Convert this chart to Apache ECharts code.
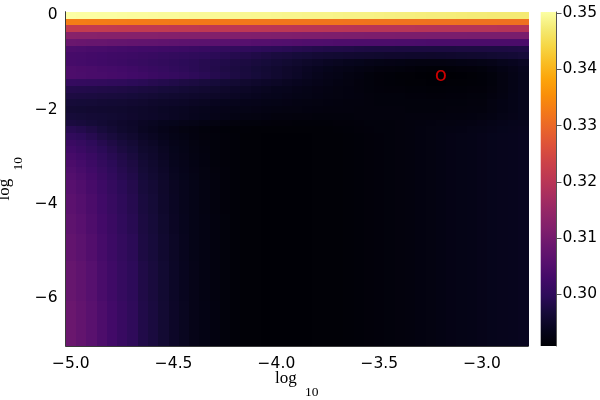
<!DOCTYPE html>
<html><head><meta charset="utf-8">
<script src="https://cdn.jsdelivr.net/npm/echarts@6/dist/echarts.min.js"></script>
<style>html,body{margin:0;padding:0;background:#fff}#c{width:600px;height:400px}</style>
</head><body><div id="c"></div>
<script>
// grid of cell centres (log10 of the two hyper-parameters)
const xCenters = [-5.00,-4.95,-4.90,-4.85,-4.80,-4.75,-4.70,-4.65,-4.60,-4.55,-4.50,-4.45,-4.40,-4.35,-4.30,-4.25,-4.20,-4.15,-4.10,-4.05,-4.00,-3.95,-3.90,-3.85,-3.80,-3.75,-3.70,-3.65,-3.60,-3.55,-3.50,-3.45,-3.40,-3.35,-3.30,-3.25,-3.20,-3.15,-3.10,-3.05,-3.00,-2.95,-2.90,-2.85,-2.80];
const yCenters = [0,-0.1429,-0.2857,-0.4286,-0.5714,-0.7143,-0.8571,-1.0,-1.1429,-1.2857,-1.4286,-1.5714,-1.7143,-1.8571,-2.0,-2.1429,-2.2857,-2.4286,-2.5714,-2.7143,-2.8571,-3.0,-3.1429,-3.2857,-3.4286,-3.5714,-3.7143,-3.8571,-4.0,-4.1429,-4.2857,-4.4286,-4.5714,-4.7143,-4.8571,-5.0,-5.1429,-5.2857,-5.4286,-5.5714,-5.7143,-5.8571,-6.0,-6.1429,-6.2857,-6.4286,-6.5714,-6.7143,-6.8571,-7.0];
// tick positions
const xTicks = [-5.0, -4.5, -4.0, -3.5, -3.0];
const yTicks = [-6, -4, -2, 0];
const colorTicks = [0.30, 0.31, 0.32, 0.33, 0.34, 0.35];
// values, one row per y centre (top row first)
const zRows = [
[0.3502,0.3501,0.3501,0.3500,0.3500,0.3499,0.3498,0.3498,0.3497,0.3496,0.3496,0.3495,0.3494,0.3494,0.3493,0.3492,0.3492,0.3491,0.3490,0.3490,0.3489,0.3488,0.3488,0.3487,0.3486,0.3486,0.3485,0.3484,0.3484,0.3483,0.3482,0.3481,0.3480,0.3479,0.3478,0.3477,0.3477,0.3476,0.3475,0.3474,0.3474,0.3473,0.3473,0.3472,0.3472],
[0.3330,0.3330,0.3329,0.3329,0.3328,0.3328,0.3327,0.3327,0.3326,0.3326,0.3325,0.3325,0.3324,0.3324,0.3323,0.3323,0.3322,0.3322,0.3321,0.3321,0.3320,0.3320,0.3319,0.3319,0.3318,0.3318,0.3318,0.3317,0.3317,0.3316,0.3316,0.3316,0.3315,0.3315,0.3315,0.3314,0.3314,0.3314,0.3313,0.3313,0.3313,0.3313,0.3312,0.3312,0.3312],
[0.3217,0.3217,0.3216,0.3216,0.3215,0.3214,0.3214,0.3213,0.3212,0.3212,0.3211,0.3210,0.3210,0.3209,0.3208,0.3208,0.3207,0.3206,0.3206,0.3205,0.3204,0.3204,0.3203,0.3202,0.3202,0.3201,0.3201,0.3200,0.3199,0.3199,0.3198,0.3198,0.3197,0.3197,0.3196,0.3196,0.3195,0.3195,0.3195,0.3194,0.3194,0.3194,0.3193,0.3193,0.3193],
[0.3128,0.3127,0.3127,0.3126,0.3126,0.3125,0.3124,0.3124,0.3123,0.3122,0.3122,0.3121,0.3120,0.3120,0.3119,0.3118,0.3118,0.3117,0.3116,0.3116,0.3115,0.3115,0.3114,0.3113,0.3113,0.3112,0.3112,0.3111,0.3111,0.3110,0.3110,0.3110,0.3109,0.3109,0.3109,0.3108,0.3108,0.3108,0.3108,0.3107,0.3107,0.3107,0.3107,0.3107,0.3107],
[0.3086,0.3084,0.3082,0.3081,0.3079,0.3077,0.3075,0.3073,0.3072,0.3070,0.3068,0.3066,0.3064,0.3063,0.3061,0.3059,0.3058,0.3056,0.3054,0.3053,0.3051,0.3050,0.3049,0.3047,0.3046,0.3045,0.3044,0.3044,0.3043,0.3043,0.3042,0.3042,0.3041,0.3041,0.3040,0.3039,0.3039,0.3039,0.3039,0.3039,0.3039,0.3039,0.3039,0.3039,0.3039],
[0.3042,0.3040,0.3037,0.3035,0.3032,0.3030,0.3028,0.3026,0.3025,0.3023,0.3021,0.3018,0.3015,0.3012,0.3009,0.3006,0.3004,0.3001,0.2999,0.2996,0.2994,0.2992,0.2989,0.2987,0.2984,0.2982,0.2981,0.2980,0.2978,0.2977,0.2976,0.2976,0.2975,0.2975,0.2975,0.2975,0.2975,0.2975,0.2976,0.2976,0.2976,0.2977,0.2977,0.2978,0.2979],
[0.3033,0.3031,0.3028,0.3026,0.3023,0.3021,0.3018,0.3015,0.3012,0.3009,0.3006,0.3003,0.3000,0.2997,0.2994,0.2991,0.2987,0.2984,0.2980,0.2977,0.2973,0.2971,0.2968,0.2966,0.2963,0.2961,0.2960,0.2959,0.2958,0.2957,0.2956,0.2955,0.2955,0.2954,0.2954,0.2953,0.2954,0.2955,0.2956,0.2957,0.2958,0.2960,0.2962,0.2964,0.2967],
[0.3033,0.3030,0.3027,0.3024,0.3021,0.3018,0.3014,0.3011,0.3007,0.3004,0.3000,0.2996,0.2993,0.2989,0.2986,0.2982,0.2978,0.2975,0.2971,0.2968,0.2964,0.2960,0.2956,0.2952,0.2948,0.2944,0.2941,0.2938,0.2935,0.2932,0.2929,0.2928,0.2927,0.2925,0.2924,0.2923,0.2924,0.2925,0.2927,0.2928,0.2929,0.2932,0.2936,0.2940,0.2944],
[0.3042,0.3039,0.3036,0.3033,0.3030,0.3027,0.3022,0.3017,0.3013,0.3008,0.3003,0.2998,0.2993,0.2989,0.2984,0.2979,0.2975,0.2971,0.2966,0.2962,0.2958,0.2953,0.2949,0.2944,0.2940,0.2935,0.2932,0.2929,0.2926,0.2923,0.2920,0.2919,0.2917,0.2916,0.2914,0.2913,0.2913,0.2914,0.2915,0.2916,0.2917,0.2922,0.2927,0.2932,0.2938],
[0.3042,0.3040,0.3037,0.3035,0.3032,0.3030,0.3026,0.3022,0.3017,0.3013,0.3009,0.3004,0.2998,0.2993,0.2987,0.2982,0.2977,0.2972,0.2968,0.2963,0.2958,0.2953,0.2948,0.2942,0.2937,0.2932,0.2929,0.2925,0.2922,0.2918,0.2915,0.2914,0.2912,0.2911,0.2910,0.2909,0.2908,0.2909,0.2910,0.2912,0.2914,0.2918,0.2923,0.2929,0.2935],
[0.3009,0.3007,0.3005,0.3004,0.3002,0.3000,0.2996,0.2993,0.2989,0.2986,0.2982,0.2978,0.2975,0.2971,0.2968,0.2964,0.2961,0.2957,0.2954,0.2950,0.2947,0.2943,0.2940,0.2936,0.2933,0.2929,0.2926,0.2923,0.2920,0.2917,0.2915,0.2914,0.2913,0.2912,0.2911,0.2910,0.2910,0.2911,0.2912,0.2913,0.2914,0.2918,0.2923,0.2929,0.2935],
[0.2985,0.2984,0.2983,0.2981,0.2980,0.2979,0.2977,0.2974,0.2972,0.2969,0.2967,0.2964,0.2961,0.2959,0.2956,0.2953,0.2950,0.2947,0.2944,0.2941,0.2938,0.2936,0.2933,0.2931,0.2928,0.2926,0.2924,0.2922,0.2920,0.2918,0.2916,0.2915,0.2915,0.2914,0.2914,0.2913,0.2913,0.2914,0.2914,0.2915,0.2915,0.2919,0.2924,0.2929,0.2935],
[0.2976,0.2975,0.2974,0.2972,0.2971,0.2970,0.2968,0.2965,0.2963,0.2960,0.2958,0.2956,0.2954,0.2951,0.2949,0.2947,0.2945,0.2942,0.2940,0.2937,0.2935,0.2933,0.2931,0.2929,0.2927,0.2925,0.2924,0.2922,0.2921,0.2919,0.2918,0.2917,0.2917,0.2916,0.2916,0.2915,0.2915,0.2916,0.2916,0.2917,0.2917,0.2921,0.2925,0.2930,0.2935],
[0.2967,0.2966,0.2965,0.2963,0.2962,0.2961,0.2959,0.2957,0.2954,0.2952,0.2950,0.2948,0.2945,0.2943,0.2940,0.2938,0.2936,0.2934,0.2933,0.2931,0.2929,0.2928,0.2926,0.2925,0.2923,0.2922,0.2921,0.2920,0.2920,0.2919,0.2918,0.2918,0.2918,0.2917,0.2917,0.2917,0.2917,0.2918,0.2918,0.2919,0.2919,0.2923,0.2927,0.2931,0.2935],
[0.2961,0.2960,0.2959,0.2958,0.2957,0.2956,0.2954,0.2951,0.2949,0.2946,0.2944,0.2942,0.2939,0.2937,0.2934,0.2932,0.2931,0.2929,0.2928,0.2926,0.2925,0.2924,0.2923,0.2922,0.2921,0.2920,0.2920,0.2920,0.2919,0.2919,0.2919,0.2919,0.2919,0.2918,0.2918,0.2918,0.2918,0.2919,0.2919,0.2920,0.2920,0.2924,0.2927,0.2931,0.2935],
[0.2967,0.2965,0.2963,0.2962,0.2960,0.2958,0.2955,0.2952,0.2950,0.2947,0.2944,0.2941,0.2938,0.2935,0.2932,0.2929,0.2927,0.2925,0.2923,0.2922,0.2920,0.2920,0.2919,0.2919,0.2918,0.2918,0.2918,0.2918,0.2919,0.2919,0.2919,0.2919,0.2919,0.2920,0.2920,0.2920,0.2920,0.2921,0.2921,0.2922,0.2923,0.2926,0.2929,0.2932,0.2935],
[0.2973,0.2970,0.2966,0.2962,0.2958,0.2954,0.2950,0.2945,0.2942,0.2938,0.2935,0.2932,0.2929,0.2926,0.2923,0.2921,0.2919,0.2918,0.2917,0.2916,0.2915,0.2915,0.2914,0.2914,0.2914,0.2914,0.2915,0.2915,0.2916,0.2917,0.2917,0.2918,0.2919,0.2920,0.2921,0.2922,0.2923,0.2924,0.2925,0.2926,0.2928,0.2930,0.2933,0.2935,0.2937],
[0.2991,0.2986,0.2979,0.2970,0.2963,0.2956,0.2951,0.2943,0.2939,0.2933,0.2928,0.2924,0.2921,0.2918,0.2916,0.2914,0.2913,0.2913,0.2912,0.2911,0.2911,0.2911,0.2911,0.2911,0.2912,0.2912,0.2913,0.2914,0.2915,0.2916,0.2917,0.2918,0.2919,0.2920,0.2922,0.2923,0.2925,0.2926,0.2927,0.2929,0.2931,0.2933,0.2935,0.2937,0.2939],
[0.3003,0.2997,0.2989,0.2979,0.2971,0.2963,0.2957,0.2948,0.2943,0.2936,0.2931,0.2927,0.2922,0.2919,0.2917,0.2915,0.2914,0.2912,0.2911,0.2910,0.2910,0.2910,0.2910,0.2910,0.2911,0.2911,0.2912,0.2913,0.2914,0.2915,0.2916,0.2918,0.2919,0.2920,0.2922,0.2924,0.2926,0.2928,0.2929,0.2931,0.2933,0.2935,0.2937,0.2938,0.2940],
[0.3015,0.3008,0.2999,0.2988,0.2979,0.2970,0.2963,0.2953,0.2947,0.2940,0.2933,0.2929,0.2924,0.2920,0.2917,0.2915,0.2914,0.2912,0.2911,0.2910,0.2910,0.2910,0.2910,0.2910,0.2911,0.2911,0.2912,0.2913,0.2914,0.2915,0.2916,0.2918,0.2919,0.2920,0.2922,0.2924,0.2926,0.2928,0.2929,0.2931,0.2933,0.2935,0.2937,0.2938,0.2940],
[0.3024,0.3016,0.3006,0.2995,0.2985,0.2975,0.2968,0.2956,0.2951,0.2943,0.2935,0.2930,0.2925,0.2921,0.2918,0.2915,0.2914,0.2912,0.2911,0.2910,0.2910,0.2910,0.2910,0.2910,0.2911,0.2911,0.2912,0.2913,0.2914,0.2915,0.2916,0.2918,0.2919,0.2920,0.2922,0.2924,0.2926,0.2928,0.2929,0.2931,0.2933,0.2935,0.2937,0.2938,0.2940],
[0.3033,0.3024,0.3014,0.3002,0.2991,0.2981,0.2972,0.2960,0.2954,0.2945,0.2937,0.2932,0.2926,0.2922,0.2918,0.2915,0.2914,0.2912,0.2911,0.2910,0.2910,0.2910,0.2910,0.2910,0.2911,0.2911,0.2912,0.2913,0.2914,0.2915,0.2916,0.2918,0.2919,0.2920,0.2922,0.2924,0.2926,0.2928,0.2929,0.2931,0.2933,0.2935,0.2937,0.2938,0.2940],
[0.3039,0.3030,0.3019,0.3006,0.2995,0.2984,0.2976,0.2963,0.2956,0.2947,0.2938,0.2933,0.2927,0.2922,0.2918,0.2915,0.2914,0.2912,0.2911,0.2910,0.2910,0.2910,0.2910,0.2910,0.2911,0.2911,0.2912,0.2913,0.2914,0.2915,0.2916,0.2918,0.2919,0.2920,0.2922,0.2924,0.2926,0.2928,0.2929,0.2931,0.2933,0.2935,0.2937,0.2938,0.2940],
[0.3045,0.3035,0.3024,0.3011,0.2999,0.2988,0.2979,0.2965,0.2958,0.2949,0.2940,0.2934,0.2928,0.2923,0.2919,0.2916,0.2914,0.2912,0.2911,0.2910,0.2910,0.2910,0.2910,0.2910,0.2911,0.2911,0.2912,0.2913,0.2914,0.2915,0.2916,0.2918,0.2919,0.2920,0.2922,0.2924,0.2926,0.2928,0.2929,0.2931,0.2933,0.2935,0.2937,0.2938,0.2940],
[0.3051,0.3041,0.3029,0.3015,0.3003,0.2991,0.2982,0.2968,0.2960,0.2951,0.2941,0.2935,0.2929,0.2924,0.2920,0.2916,0.2914,0.2912,0.2911,0.2910,0.2910,0.2910,0.2910,0.2910,0.2911,0.2911,0.2912,0.2913,0.2914,0.2915,0.2916,0.2918,0.2919,0.2920,0.2922,0.2924,0.2926,0.2928,0.2929,0.2931,0.2933,0.2935,0.2937,0.2938,0.2940],
[0.3057,0.3047,0.3034,0.3020,0.3007,0.2995,0.2985,0.2970,0.2963,0.2953,0.2943,0.2936,0.2930,0.2925,0.2920,0.2916,0.2914,0.2912,0.2911,0.2910,0.2910,0.2910,0.2910,0.2910,0.2911,0.2911,0.2912,0.2913,0.2914,0.2915,0.2916,0.2918,0.2919,0.2920,0.2922,0.2924,0.2926,0.2928,0.2929,0.2931,0.2933,0.2935,0.2937,0.2938,0.2940],
[0.3057,0.3047,0.3034,0.3020,0.3007,0.2995,0.2985,0.2970,0.2963,0.2953,0.2943,0.2936,0.2930,0.2925,0.2920,0.2916,0.2914,0.2912,0.2911,0.2910,0.2910,0.2910,0.2910,0.2910,0.2911,0.2911,0.2912,0.2913,0.2914,0.2915,0.2916,0.2918,0.2919,0.2920,0.2922,0.2924,0.2926,0.2928,0.2929,0.2931,0.2933,0.2935,0.2937,0.2938,0.2940],
[0.3062,0.3052,0.3039,0.3024,0.3011,0.2998,0.2988,0.2973,0.2965,0.2954,0.2944,0.2937,0.2930,0.2925,0.2920,0.2916,0.2914,0.2912,0.2911,0.2910,0.2910,0.2910,0.2910,0.2910,0.2911,0.2911,0.2912,0.2913,0.2914,0.2915,0.2916,0.2918,0.2919,0.2920,0.2922,0.2924,0.2926,0.2928,0.2929,0.2931,0.2933,0.2935,0.2937,0.2938,0.2940],
[0.3062,0.3052,0.3039,0.3024,0.3011,0.2998,0.2988,0.2973,0.2965,0.2954,0.2944,0.2937,0.2930,0.2925,0.2920,0.2916,0.2914,0.2912,0.2911,0.2910,0.2910,0.2910,0.2910,0.2910,0.2911,0.2911,0.2912,0.2913,0.2914,0.2915,0.2916,0.2918,0.2919,0.2920,0.2922,0.2924,0.2926,0.2928,0.2929,0.2931,0.2933,0.2935,0.2937,0.2938,0.2940],
[0.3062,0.3052,0.3039,0.3024,0.3011,0.2998,0.2988,0.2973,0.2965,0.2954,0.2944,0.2937,0.2930,0.2925,0.2920,0.2916,0.2914,0.2912,0.2911,0.2910,0.2910,0.2910,0.2910,0.2910,0.2911,0.2911,0.2912,0.2913,0.2914,0.2915,0.2916,0.2918,0.2919,0.2920,0.2922,0.2924,0.2926,0.2928,0.2929,0.2931,0.2933,0.2935,0.2937,0.2938,0.2940],
[0.3068,0.3058,0.3044,0.3028,0.3015,0.3001,0.2991,0.2975,0.2967,0.2956,0.2945,0.2938,0.2931,0.2926,0.2921,0.2917,0.2914,0.2912,0.2911,0.2910,0.2910,0.2910,0.2910,0.2910,0.2911,0.2911,0.2912,0.2913,0.2914,0.2915,0.2916,0.2918,0.2919,0.2920,0.2922,0.2924,0.2926,0.2928,0.2929,0.2931,0.2933,0.2935,0.2937,0.2938,0.2940],
[0.3068,0.3058,0.3044,0.3028,0.3015,0.3001,0.2991,0.2975,0.2967,0.2956,0.2945,0.2938,0.2931,0.2926,0.2921,0.2917,0.2914,0.2912,0.2911,0.2910,0.2910,0.2910,0.2910,0.2910,0.2911,0.2911,0.2912,0.2913,0.2914,0.2915,0.2916,0.2918,0.2919,0.2920,0.2922,0.2924,0.2926,0.2928,0.2929,0.2931,0.2933,0.2935,0.2937,0.2938,0.2940],
[0.3068,0.3058,0.3044,0.3028,0.3015,0.3001,0.2991,0.2975,0.2967,0.2956,0.2945,0.2938,0.2931,0.2926,0.2921,0.2917,0.2914,0.2912,0.2911,0.2910,0.2910,0.2910,0.2910,0.2910,0.2911,0.2911,0.2912,0.2913,0.2914,0.2915,0.2916,0.2918,0.2919,0.2920,0.2922,0.2924,0.2926,0.2928,0.2929,0.2931,0.2933,0.2935,0.2937,0.2938,0.2940],
[0.3074,0.3063,0.3049,0.3033,0.3019,0.3005,0.2994,0.2977,0.2969,0.2958,0.2947,0.2939,0.2931,0.2926,0.2921,0.2917,0.2914,0.2912,0.2911,0.2910,0.2910,0.2910,0.2910,0.2910,0.2911,0.2911,0.2912,0.2913,0.2914,0.2915,0.2916,0.2918,0.2919,0.2920,0.2922,0.2924,0.2926,0.2928,0.2929,0.2931,0.2933,0.2935,0.2937,0.2938,0.2940],
[0.3074,0.3063,0.3049,0.3033,0.3019,0.3005,0.2994,0.2977,0.2969,0.2958,0.2947,0.2939,0.2931,0.2926,0.2921,0.2917,0.2914,0.2912,0.2911,0.2910,0.2910,0.2910,0.2910,0.2910,0.2911,0.2911,0.2912,0.2913,0.2914,0.2915,0.2916,0.2918,0.2919,0.2920,0.2922,0.2924,0.2926,0.2928,0.2929,0.2931,0.2933,0.2935,0.2937,0.2938,0.2940],
[0.3074,0.3063,0.3049,0.3033,0.3019,0.3005,0.2994,0.2977,0.2969,0.2958,0.2947,0.2939,0.2931,0.2926,0.2921,0.2917,0.2914,0.2912,0.2911,0.2910,0.2910,0.2910,0.2910,0.2910,0.2911,0.2911,0.2912,0.2913,0.2914,0.2915,0.2916,0.2918,0.2919,0.2920,0.2922,0.2924,0.2926,0.2928,0.2929,0.2931,0.2933,0.2935,0.2937,0.2938,0.2940],
[0.3074,0.3063,0.3049,0.3033,0.3019,0.3005,0.2994,0.2977,0.2969,0.2958,0.2947,0.2939,0.2931,0.2926,0.2921,0.2917,0.2914,0.2912,0.2911,0.2910,0.2910,0.2910,0.2910,0.2910,0.2911,0.2911,0.2912,0.2913,0.2914,0.2915,0.2916,0.2918,0.2919,0.2920,0.2922,0.2924,0.2926,0.2928,0.2929,0.2931,0.2933,0.2935,0.2937,0.2938,0.2940],
[0.3080,0.3069,0.3055,0.3037,0.3023,0.3008,0.2997,0.2980,0.2971,0.2960,0.2948,0.2940,0.2932,0.2926,0.2921,0.2917,0.2914,0.2912,0.2911,0.2910,0.2910,0.2910,0.2910,0.2910,0.2911,0.2911,0.2912,0.2913,0.2914,0.2915,0.2916,0.2918,0.2919,0.2920,0.2922,0.2924,0.2926,0.2928,0.2929,0.2931,0.2933,0.2935,0.2937,0.2938,0.2940],
[0.3080,0.3069,0.3055,0.3037,0.3023,0.3008,0.2997,0.2980,0.2971,0.2960,0.2948,0.2940,0.2932,0.2926,0.2921,0.2917,0.2914,0.2912,0.2911,0.2910,0.2910,0.2910,0.2910,0.2910,0.2911,0.2911,0.2912,0.2913,0.2914,0.2915,0.2916,0.2918,0.2919,0.2920,0.2922,0.2924,0.2926,0.2928,0.2929,0.2931,0.2933,0.2935,0.2937,0.2938,0.2940],
[0.3080,0.3069,0.3055,0.3037,0.3023,0.3008,0.2997,0.2980,0.2971,0.2960,0.2948,0.2940,0.2932,0.2926,0.2921,0.2917,0.2914,0.2912,0.2911,0.2910,0.2910,0.2910,0.2910,0.2910,0.2911,0.2911,0.2912,0.2913,0.2914,0.2915,0.2916,0.2918,0.2919,0.2920,0.2922,0.2924,0.2926,0.2928,0.2929,0.2931,0.2933,0.2935,0.2937,0.2938,0.2940],
[0.3080,0.3069,0.3055,0.3037,0.3023,0.3008,0.2997,0.2980,0.2971,0.2960,0.2948,0.2940,0.2932,0.2926,0.2921,0.2917,0.2914,0.2912,0.2911,0.2910,0.2910,0.2910,0.2910,0.2910,0.2911,0.2911,0.2912,0.2913,0.2914,0.2915,0.2916,0.2918,0.2919,0.2920,0.2922,0.2924,0.2926,0.2928,0.2929,0.2931,0.2933,0.2935,0.2937,0.2938,0.2940],
[0.3080,0.3069,0.3055,0.3037,0.3023,0.3008,0.2997,0.2980,0.2971,0.2960,0.2948,0.2940,0.2932,0.2926,0.2921,0.2917,0.2914,0.2912,0.2911,0.2910,0.2910,0.2910,0.2910,0.2910,0.2911,0.2911,0.2912,0.2913,0.2914,0.2915,0.2916,0.2918,0.2919,0.2920,0.2922,0.2924,0.2926,0.2928,0.2929,0.2931,0.2933,0.2935,0.2937,0.2938,0.2940],
[0.3080,0.3069,0.3055,0.3037,0.3023,0.3008,0.2997,0.2980,0.2971,0.2960,0.2948,0.2940,0.2932,0.2926,0.2921,0.2917,0.2914,0.2912,0.2911,0.2910,0.2910,0.2910,0.2910,0.2910,0.2911,0.2911,0.2912,0.2913,0.2914,0.2915,0.2916,0.2918,0.2919,0.2920,0.2922,0.2924,0.2926,0.2928,0.2929,0.2931,0.2933,0.2935,0.2937,0.2938,0.2940],
[0.3086,0.3074,0.3060,0.3042,0.3027,0.3012,0.3000,0.2982,0.2973,0.2961,0.2949,0.2941,0.2932,0.2927,0.2922,0.2917,0.2914,0.2912,0.2911,0.2910,0.2910,0.2910,0.2910,0.2910,0.2911,0.2911,0.2912,0.2913,0.2914,0.2915,0.2916,0.2918,0.2919,0.2920,0.2922,0.2924,0.2926,0.2928,0.2929,0.2931,0.2933,0.2935,0.2937,0.2938,0.2940],
[0.3086,0.3074,0.3060,0.3042,0.3027,0.3012,0.3000,0.2982,0.2973,0.2961,0.2949,0.2941,0.2932,0.2927,0.2922,0.2917,0.2914,0.2912,0.2911,0.2910,0.2910,0.2910,0.2910,0.2910,0.2911,0.2911,0.2912,0.2913,0.2914,0.2915,0.2916,0.2918,0.2919,0.2920,0.2922,0.2924,0.2926,0.2928,0.2929,0.2931,0.2933,0.2935,0.2937,0.2938,0.2940],
[0.3086,0.3074,0.3060,0.3042,0.3027,0.3012,0.3000,0.2982,0.2973,0.2961,0.2949,0.2941,0.2932,0.2927,0.2922,0.2917,0.2914,0.2912,0.2911,0.2910,0.2910,0.2910,0.2910,0.2910,0.2911,0.2911,0.2912,0.2913,0.2914,0.2915,0.2916,0.2918,0.2919,0.2920,0.2922,0.2924,0.2926,0.2928,0.2929,0.2931,0.2933,0.2935,0.2937,0.2938,0.2940],
[0.3086,0.3074,0.3060,0.3042,0.3027,0.3012,0.3000,0.2982,0.2973,0.2961,0.2949,0.2941,0.2932,0.2927,0.2922,0.2917,0.2914,0.2912,0.2911,0.2910,0.2910,0.2910,0.2910,0.2910,0.2911,0.2911,0.2912,0.2913,0.2914,0.2915,0.2916,0.2918,0.2919,0.2920,0.2922,0.2924,0.2926,0.2928,0.2929,0.2931,0.2933,0.2935,0.2937,0.2938,0.2940],
[0.3086,0.3074,0.3060,0.3042,0.3027,0.3012,0.3000,0.2982,0.2973,0.2961,0.2949,0.2941,0.2932,0.2927,0.2922,0.2917,0.2914,0.2912,0.2911,0.2910,0.2910,0.2910,0.2910,0.2910,0.2911,0.2911,0.2912,0.2913,0.2914,0.2915,0.2916,0.2918,0.2919,0.2920,0.2922,0.2924,0.2926,0.2928,0.2929,0.2931,0.2933,0.2935,0.2937,0.2938,0.2940],
[0.3086,0.3074,0.3060,0.3042,0.3027,0.3012,0.3000,0.2982,0.2973,0.2961,0.2949,0.2941,0.2932,0.2927,0.2922,0.2917,0.2914,0.2912,0.2911,0.2910,0.2910,0.2910,0.2910,0.2910,0.2911,0.2911,0.2912,0.2913,0.2914,0.2915,0.2916,0.2918,0.2919,0.2920,0.2922,0.2924,0.2926,0.2928,0.2929,0.2931,0.2933,0.2935,0.2937,0.2938,0.2940],
[0.3086,0.3074,0.3060,0.3042,0.3027,0.3012,0.3000,0.2982,0.2973,0.2961,0.2949,0.2941,0.2932,0.2927,0.2922,0.2917,0.2914,0.2912,0.2911,0.2910,0.2910,0.2910,0.2910,0.2910,0.2911,0.2911,0.2912,0.2913,0.2914,0.2915,0.2916,0.2918,0.2919,0.2920,0.2922,0.2924,0.2926,0.2928,0.2929,0.2931,0.2933,0.2935,0.2937,0.2938,0.2940]
];
const colorMin = 0.2908, colorMax = 0.3502;
const bestPoint = [-3.2, -1.2857];
const bestLabel = 'o';
const axisTitleMain = 'log', axisTitleSub = '10';
const infernoStops = ['#000004','#07051d','#160b39','#2d0b59','#420a68','#57106e','#6a176e','#801f6c','#932667','#a82e5f','#bc3754','#cc4248','#dd513a','#e9642a','#f37819','#f98e09','#fca50a','#f9be24','#f6d746','#f4ea73','#fcffa4'];

const DX = xCenters[1] - xCenters[0];
const DY = yCenters[0] - yCenters[1];
const cells = [];
zRows.forEach((row, r) => row.forEach((v, c) => cells.push([xCenters[c], yCenters[r], v])));

const tickFont = {fontSize: 15.5, fontFamily: 'DejaVu Sans', color: '#000'};
const minus = s => s.replace('-', '\u2212');

const chart = echarts.init(document.getElementById('c'), null, {renderer: 'canvas'});
chart.setOption({
  animation: false,
  backgroundColor: '#fff',
  grid: [
    {left: 65.7, top: 11.7, width: 462.6, height: 334.3},
    {left: 540.7, top: 12, width: 17.6, height: 334}
  ],
  xAxis: [
    {type: 'value', gridIndex: 0, min: xCenters[0] - DX / 2, max: xCenters[xCenters.length - 1] + DX / 2,
     minInterval: 0.5, maxInterval: 0.5, z: 10,
     axisLine: {show: true, onZero: false, lineStyle: {color: '#3a3a3a', width: 1}},
     axisTick: {show: false}, splitLine: {show: false},
     axisLabel: Object.assign({margin: 10, customValues: xTicks, formatter: v => minus(Number(v).toFixed(1))}, tickFont)},
    {type: 'value', gridIndex: 1, min: 0, max: 1, show: false}
  ],
  yAxis: [
    {type: 'value', gridIndex: 0, min: -7.02, max: 0.075, minInterval: 2, maxInterval: 2, z: 10,
     axisLine: {show: true, onZero: false, lineStyle: {color: '#3a3a3a', width: 1}},
     axisTick: {show: false}, splitLine: {show: false},
     axisLabel: Object.assign({margin: 8, customValues: yTicks, formatter: v => minus(String(Math.round(v)))}, tickFont)},
    {type: 'value', gridIndex: 1, position: 'right', min: colorMin, max: colorMax, minInterval: 0.01, maxInterval: 0.01, z: 10,
     axisLine: {show: true, onZero: false, lineStyle: {color: '#555', width: 1}},
     axisTick: {show: true, inside: false, length: 5, customValues: colorTicks, lineStyle: {color: '#555'}},
     splitLine: {show: false},
     axisLabel: Object.assign({margin: 6, customValues: colorTicks, formatter: v => Number(v).toFixed(2)}, tickFont)}
  ],
  visualMap: [{type: 'continuous', show: false, min: colorMin, max: colorMax, dimension: 2, seriesIndex: 0,
    inRange: {color: infernoStops}}],
  series: [
    {type: 'custom', xAxisIndex: 0, yAxisIndex: 0, data: cells, clip: true,
     encode: {x: 0, y: 1},
     renderItem: (params, api) => {
       const x = api.value(0), y = api.value(1);
       const p0 = api.coord([x - DX / 2, y + DY / 2]);
       const p1 = api.coord([x + DX / 2, y - DY / 2]);
       const x0 = Math.round(p0[0]), y0 = Math.round(p0[1]);
       const x1 = Math.round(p1[0]), y1 = Math.round(p1[1]);
       return {type: 'rect', shape: {x: x0, y: y0, width: x1 - x0 + 1, height: y1 - y0 + 1},
               style: {fill: api.visual('color')}};
     }},
    {type: 'custom', xAxisIndex: 1, yAxisIndex: 1, data: [[0, colorMin, colorMax]],
     encode: {x: 0, y: [1, 2]},
     renderItem: (params, api) => {
       const top = api.coord([0, api.value(2)]);
       const bot = api.coord([1, api.value(1)]);
       return {type: 'rect', shape: {x: top[0], y: top[1], width: bot[0] - top[0], height: bot[1] - top[1]},
               style: {fill: new echarts.graphic.LinearGradient(0, 1, 0, 0,
                 infernoStops.map((c, i) => ({offset: i / (infernoStops.length - 1), color: c})))}};
     }},
    {type: 'scatter', xAxisIndex: 0, yAxisIndex: 0, data: [bestPoint], symbolSize: 1, z: 5,
     itemStyle: {color: 'rgba(0,0,0,0)'},
     label: {show: true, position: 'inside', formatter: bestLabel, color: '#ff0000', fontSize: 20, fontFamily: 'DejaVu Sans'}}
  ],
  graphic: [
    {type: 'text', x: 275, y: 378.6, style: {text: axisTitleMain, font: '17px "Liberation Serif"', fill: '#000', align: 'left', verticalAlign: 'middle'}},
    {type: 'text', x: 305, y: 392.2, style: {text: axisTitleSub, font: '13.5px "Liberation Serif"', fill: '#000', align: 'left', verticalAlign: 'middle'}},
    {type: 'group', x: 10.5, y: 200.5, rotation: Math.PI / 2, children: [
      {type: 'text', x: 0, y: -5.7, style: {text: axisTitleMain, font: '17px "Liberation Serif"', fill: '#000', align: 'left', verticalAlign: 'middle'}},
      {type: 'text', x: 30, y: 7.9, style: {text: axisTitleSub, font: '13.5px "Liberation Serif"', fill: '#000', align: 'left', verticalAlign: 'middle'}}
    ]}
  ]
});
</script>
</body></html>
